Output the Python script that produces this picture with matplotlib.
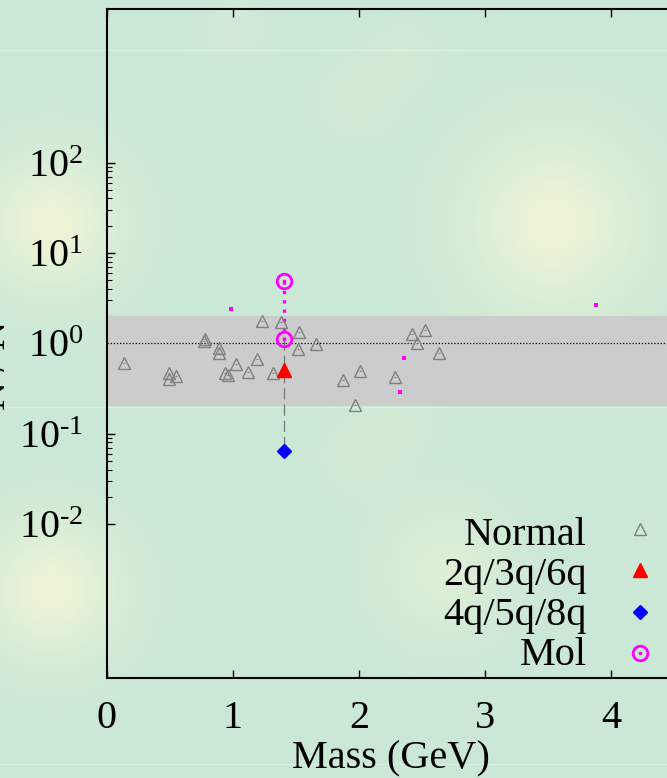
import numpy as np
import matplotlib
matplotlib.use("Agg")
import matplotlib.pyplot as plt
from matplotlib.ticker import FixedLocator, NullFormatter

plt.rcParams["font.family"] = ["Liberation Serif", "DejaVu Serif"]
plt.rcParams["mathtext.fontset"] = "custom"
plt.rcParams["mathtext.rm"] = "Liberation Serif"
plt.rcParams["mathtext.it"] = "Liberation Serif:italic"

# --- data ---
normal_mass = [0.135, 0.492, 0.494, 0.550, 0.778, 0.772, 0.891, 0.891, 1.021,
               1.193, 0.939, 0.958, 1.117, 1.315, 1.230, 1.383, 1.526, 1.518,
               1.659, 1.871, 2.010, 1.971, 2.288, 2.421, 2.521, 2.458, 2.632]
normal_ratio = [0.612, 0.463, 0.407, 0.432, 1.107, 1.052, 0.896, 0.781, 0.586,
                0.678, 0.463, 0.443, 0.482, 0.474, 1.75, 1.71, 1.33, 0.874,
                0.99, 0.39, 0.494, 0.206, 0.424, 1.28, 1.39, 1.01, 0.781]
q_mass = [1.407]
q_ratio = [0.503]
multi_mass = [1.407]
multi_ratio = [0.0646]
mol_mass = [1.407, 1.407]
mol_ratio = [4.84, 1.107]
dot_mass = [0.984, 2.360, 2.323, 3.881]
dot_ratio = [2.38, 0.683, 0.288, 2.68]
band_lo, band_hi = 0.2, 2.0
ytick_vals = [1e-2, 1e-1, 1e0, 1e1, 1e2]
ytick_labels = [r"$10^{\text{-2}}$", r"$10^{\text{-1}}$", r"$10^{0}$",
                r"$10^{1}$", r"$10^{2}$"]
xtick_vals = [0, 1, 2, 3, 4]
legend_labels = ["Normal", "2q/3q/6q", "4q/5q/8q", "Mol"]

W, H = 667, 778
fig = plt.figure(figsize=(W / 100, H / 100), dpi=100)


def fx(px):
    return px / W


def fy(py):
    return 1 - py / H


# soft green background with yellow glows
bg = fig.add_axes([0, 0, 1, 1], zorder=-10)
yy, xx = np.mgrid[0:H, 0:W]
base = np.array([203, 232, 214]) / 255
glow = np.array([238, 245, 214]) / 255
amt = np.zeros((H, W))
for cx, cy, s, a in [(51, 223, 48, 1.0), (553, 223, 62, 1.0), (51, 590, 48, 1.0),
                     (445, 570, 45, 0.55), (357, 99, 30, 0.18), (404, 55, 25, 0.15),
                     (234, 30, 25, 0.15), (357, 456, 30, 0.15), (400, 412, 30, 0.15)]:
    amt += a * np.exp(-((xx - cx) ** 2 + (yy - cy) ** 2) / (2 * s ** 2))
amt = np.clip(amt, 0, 1)
img = base[None, None, :] * (1 - amt[..., None]) + glow[None, None, :] * amt[..., None]
for ly in (50, 407, 764):
    img[ly, :, :] = np.clip(img[ly, :, :] + 0.04, 0, 1)
bg.imshow(img, aspect="auto", interpolation="bilinear")
bg.axis("off")

# main axes, extends past the right edge like the reference crop
ax = fig.add_axes([fx(107), fy(677.5), fx(737 - 107), (677.5 - 9) / H])
ax.set_facecolor("none")
ax.set_yscale("log")
ax.set_xlim(0, 5)
ax.set_ylim(2e-4, 5e3)

ax.axhspan(band_lo, band_hi, color="#cccccc", lw=0, zorder=2.6)
ax.axhline(1.0, color="black", ls=(0, (1, 1.5)), lw=0.9, zorder=2.7)

# connecting lines for the state at 1.4 GeV
ax.plot([q_mass[0], q_mass[0]], [mol_ratio[1], multi_ratio[0]], color="#777777",
        lw=0.9, ls=(0, (9, 4)), zorder=2.8)
ax.plot(mol_mass, mol_ratio, color="magenta", lw=2.4, ls=(0, (1, 1.8)),
        zorder=2.9)

ax.plot(normal_mass, normal_ratio, "^", ms=8, mfc="none", mec="#808080",
        mew=1.0, zorder=3)
ax.plot(normal_mass, normal_ratio, "_", ms=2, mec="#808080", mew=0.8, zorder=3)
ax.plot(q_mass, q_ratio, "^", ms=10, color="red", mec="red", zorder=4)
ax.plot(multi_mass, multi_ratio, "D", ms=7, color="blue", mec="blue", zorder=4)
ax.plot(mol_mass, mol_ratio, "o", ms=10.5, mfc="none", mec="magenta", mew=2,
        zorder=4)
ax.plot(mol_mass, mol_ratio, "s", ms=2, color="magenta", zorder=4)
ax.plot(dot_mass, dot_ratio, "s", ms=2.6, color="magenta", mew=0, zorder=4)

for sp in ax.spines.values():
    sp.set_linewidth(1.5)
    sp.set_zorder(5)

ax.set_xticks(xtick_vals)
ax.set_xticklabels([str(v) for v in xtick_vals])
ax.tick_params(axis="x", which="major", direction="in", length=6, width=1,
               top=True, labelsize=29, pad=16)
ax.yaxis.set_major_locator(FixedLocator(ytick_vals))
ax.set_yticklabels(ytick_labels)
minors = [m * 10.0 ** k for k in (-2, 0, 1) for m in range(2, 10)]
ax.yaxis.set_minor_locator(FixedLocator(minors))
ax.yaxis.set_minor_formatter(NullFormatter())
ax.tick_params(axis="y", which="major", direction="in", length=6, width=1,
               labelsize=29, pad=17)
ax.tick_params(axis="y", which="minor", direction="in", length=3.5, width=0.8)
ax.tick_params(axis="x", which="minor", bottom=False, top=False)

fig.text(fx(391), fy(759), "Mass (GeV)", fontsize=29, ha="center", va="center")
# y label is clipped by the left edge in the reference
fig.text(fx(14), fy(365), "N / N", fontsize=29, rotation=90, ha="right",
         va="center")

# key, right-aligned labels with symbols to the right
rows_y = [545, 585, 625, 665]
mk_y = [529, 570, 612, 653]
for lab, by in zip(legend_labels, rows_y):
    fig.text(fx(587), fy(by), lab, fontsize=29, ha="right", va="baseline")
kx = fx(640)
fig.lines.append(plt.Line2D([kx], [fy(mk_y[0])], marker="^", ms=8, mfc="none",
                            mec="#808080", mew=1.0, transform=fig.transFigure))
fig.lines.append(plt.Line2D([kx], [fy(mk_y[1])], marker="^", ms=10, color="red",
                            transform=fig.transFigure))
fig.lines.append(plt.Line2D([kx], [fy(mk_y[2])], marker="D", ms=7, color="blue",
                            transform=fig.transFigure))
fig.lines.append(plt.Line2D([kx], [fy(mk_y[3])], marker="o", ms=10.5, mfc="none",
                            mec="magenta", mew=2, transform=fig.transFigure))
fig.lines.append(plt.Line2D([kx], [fy(mk_y[3])], marker="s", ms=2,
                            color="magenta", transform=fig.transFigure))

fig.savefig("out.png", dpi=100)
